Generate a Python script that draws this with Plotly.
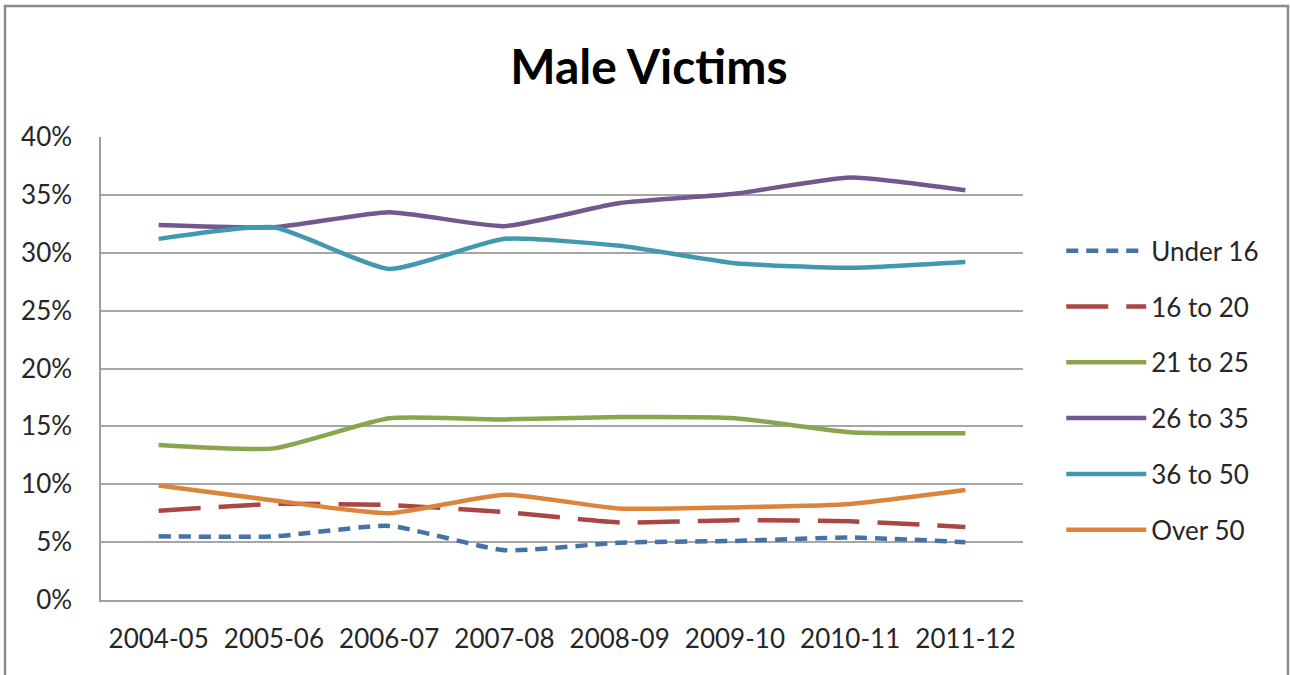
import plotly.graph_objects as go

years = ["2004-05", "2005-06", "2006-07", "2007-08", "2008-09", "2009-10", "2010-11", "2011-12"]

under_16 = [0.055, 0.055, 0.064, 0.043, 0.0495, 0.051, 0.054, 0.050]
age_16_20 = [0.077, 0.083, 0.082, 0.076, 0.067, 0.069, 0.068, 0.063]
age_21_25 = [0.134, 0.131, 0.157, 0.156, 0.158, 0.157, 0.145, 0.144]
age_26_35 = [0.324, 0.322, 0.335, 0.323, 0.343, 0.351, 0.365, 0.354]
age_36_50 = [0.312, 0.322, 0.286, 0.312, 0.306, 0.291, 0.287, 0.292]
over_50 = [0.099, 0.086, 0.075, 0.091, 0.079, 0.080, 0.083, 0.095]

series = [
    ("Under 16", under_16, "#4572A7", "12px,8px"),
    ("16 to 20", age_16_20, "#AA4643", "42px,18px"),
    ("21 to 25", age_21_25, "#89A54E", "solid"),
    ("26 to 35", age_26_35, "#71588F", "solid"),
    ("36 to 50", age_36_50, "#4198AF", "solid"),
    ("Over 50", over_50, "#DB843D", "solid"),
]

FONT = "Lato"

fig = go.Figure()
for name, vals, color, dash in series:
    fig.add_trace(
        go.Scatter(
            x=years,
            y=vals,
            mode="lines",
            name=name,
            legendgroup=name,
            line=dict(color=color, width=4.5, dash=dash, shape="spline", smoothing=0.5),
        )
    )

fig.update_layout(
    width=1290,
    height=675,
    paper_bgcolor="white",
    plot_bgcolor="white",
    margin=dict(l=101, r=267, t=137, b=75),
    title=dict(
        text="<b>Male Victims</b>",
        x=0.503,
        xanchor="center",
        y=0.9,
        yanchor="middle",
        font=dict(family=FONT, size=48, color="black"),
    ),
    font=dict(family=FONT, size=26, color="#262626"),
    legend=dict(
        x=1.0415,
        xanchor="left",
        y=0.805,
        yanchor="top",
        font=dict(family=FONT, size=26, color="#262626"),
        tracegroupgap=19,
        itemwidth=80,
        bgcolor="rgba(0,0,0,0)",
    ),
    showlegend=True,
)

fig.update_xaxes(
    type="category",
    range=[-0.5, 7.5],
    showgrid=False,
    showline=True,
    linecolor="#a0a0a0",
    linewidth=1.5,
    ticks="",
    ticklabelstandoff=15,
    tickfont=dict(family=FONT, size=26, color="#262626"),
)

fig.update_yaxes(
    range=[0, 0.4],
    dtick=0.05,
    tickformat=".0%",
    showgrid=True,
    gridcolor="#a6a6a6",
    gridwidth=1.5,
    showline=True,
    linecolor="#a0a0a0",
    linewidth=1.5,
    zeroline=False,
    ticks="",
    ticklabelstandoff=22,
    tickfont=dict(family=FONT, size=26, color="#262626"),
)

# outer chart frame
fig.add_shape(
    type="rect",
    xref="paper",
    yref="paper",
    x0=(5 - 101) / 922,
    x1=(1288 - 101) / 922,
    y0=(600 - 700) / 463,
    y1=(600 - 6) / 463,
    line=dict(color="#8c8c8c", width=2.5),
    fillcolor="rgba(0,0,0,0)",
    layer="below",
)

fig.write_html(
    "out.html",
    config={"displayModeBar": False},
    post_script="document.body.style.margin='0';",
)
